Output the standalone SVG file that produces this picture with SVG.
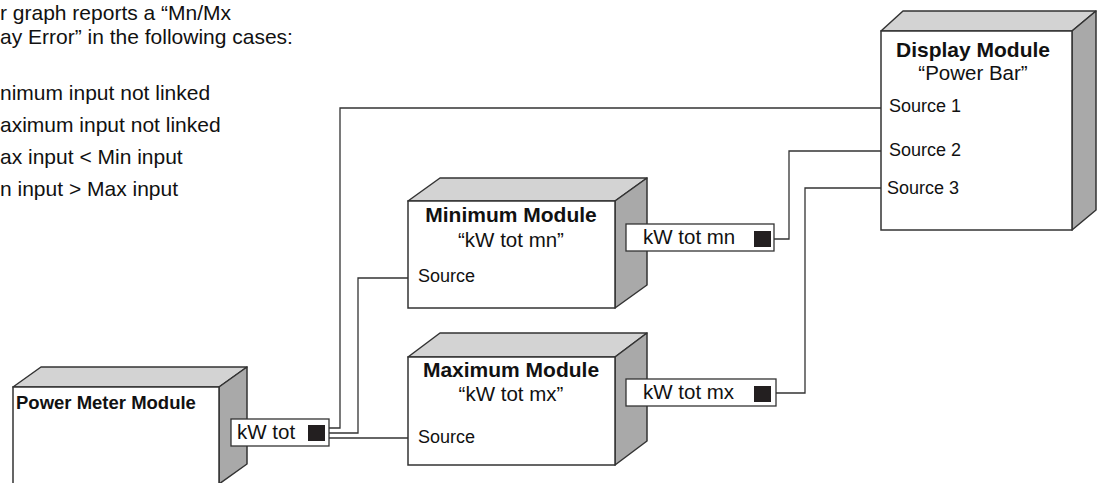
<svg xmlns="http://www.w3.org/2000/svg" width="1097" height="483" viewBox="0 0 1097 483">
<style>
text{font-family:"Liberation Sans",Arial,sans-serif;fill:#111}
.t{font-size:20.5px}
.h{font-size:21px}
.b{font-size:21px;font-weight:bold}
.s{font-size:18px}
.front{fill:#fff;stroke:#333;stroke-width:1.5}
.top{fill:#d3d3d3;stroke:#333;stroke-width:1.5;stroke-linejoin:round}
.side{fill:#a9a9a9;stroke:#333;stroke-width:1.5;stroke-linejoin:round}
.port{fill:#fff;stroke:#333;stroke-width:1.3}
.sq{fill:#231f20}
.wire{fill:none;stroke:#333;stroke-width:1.3}
</style>
<g id="note">
<text class="h" x="0" y="20">r graph reports a “Mn/Mx</text>
<text class="h" x="0" y="44">ay Error” in the following cases:</text>
<text class="h" x="0" y="100">nimum input not linked</text>
<text class="h" x="0" y="132">aximum input not linked</text>
<text class="h" x="0" y="164">ax input &lt; Min input</text>
<text class="h" x="0" y="196">n input &gt; Max input</text>
</g>
<g id="connectors">
<polyline class="wire" points="329,428 340,428 340,108 881,108"/>
<polyline class="wire" points="329,433 358,433 358,278 408,278"/>
<polyline class="wire" points="329,438 408,438"/>
<polyline class="wire" points="774,239 789,239 789,151 881,151"/>
<polyline class="wire" points="776,393 805,393 805,188 881,188"/>
</g>
<g id="display-module">
<polygon class="top" points="881,31 903,11 1096,11 1072,31"/>
<polygon class="side" points="1072,31 1096,11 1096,210 1072,230"/>
<rect class="front" x="881" y="31" width="191" height="199"/>
<text class="b" x="973" y="57" text-anchor="middle">Display Module</text>
<text class="t" x="973" y="80" text-anchor="middle">“Power Bar”</text>
<text class="s" x="889" y="112">Source 1</text>
<text class="s" x="889" y="156">Source 2</text>
<text class="s" x="887" y="194">Source 3</text>
</g>
<g id="minimum-module">
<polygon class="top" points="408,201 440,178 647,178 615,201"/>
<polygon class="side" points="615,201 647,178 647,285 615,308"/>
<rect class="front" x="408" y="201" width="207" height="107"/>
<text class="b" x="511" y="222" text-anchor="middle">Minimum Module</text>
<text class="t" x="511" y="247" text-anchor="middle">“kW tot mn”</text>
<text class="s" x="418" y="282">Source</text>
</g>
<g id="minimum-output">
<rect class="port" x="626" y="224" width="148" height="27"/>
<text class="t" x="643" y="244">kW tot mn</text>
<rect class="sq" x="754" y="231" width="17" height="16"/>
</g>
<g id="maximum-module">
<polygon class="top" points="408,357 440,333 647,333 615,357"/>
<polygon class="side" points="615,357 647,333 647,441 615,465"/>
<rect class="front" x="408" y="357" width="207" height="108"/>
<text class="b" x="511" y="377" text-anchor="middle">Maximum Module</text>
<text class="t" x="511" y="401" text-anchor="middle">“kW tot mx”</text>
<text class="s" x="418" y="443">Source</text>
</g>
<g id="maximum-output">
<rect class="port" x="626" y="379" width="150" height="27"/>
<text class="t" x="643" y="399">kW tot mx</text>
<rect class="sq" x="754" y="386" width="17" height="16"/>
</g>
<g id="power-meter-module">
<polygon class="top" points="13,387 41,367 247,367 219,387"/>
<polygon class="side" points="219,387 247,367 247,464 219,484"/>
<rect class="front" x="13" y="387" width="206" height="100"/>
<text class="b" x="16" y="409" style="font-size:18.5px">Power Meter Module</text>
</g>
<g id="power-meter-output">
<rect class="port" x="231" y="419" width="98" height="27"/>
<text class="t" x="237" y="439">kW tot</text>
<rect class="sq" x="308" y="425" width="17" height="16"/>
</g>
</svg>
